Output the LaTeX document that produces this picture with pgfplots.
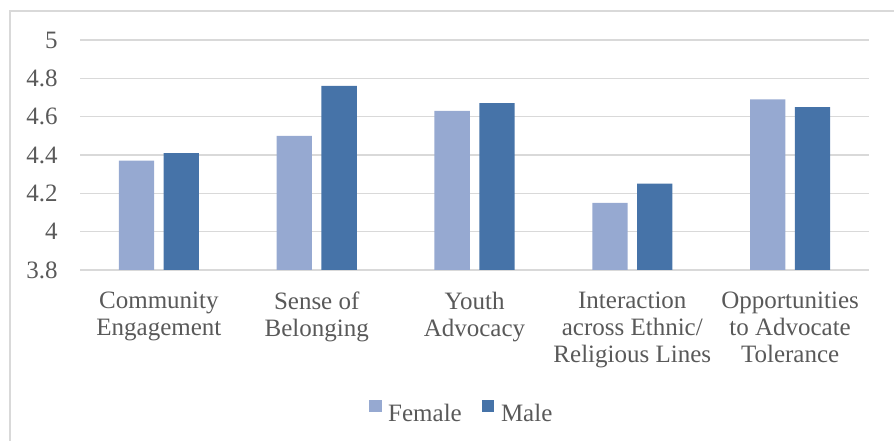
\documentclass[border=0pt]{standalone}
\usepackage{fontspec}
\setmainfont{Liberation Serif}
\usepackage{pgfplots}
\pgfplotsset{compat=1.18}

\definecolor{femc}{HTML}{96A9D1}
\definecolor{malec}{HTML}{4673A8}
\definecolor{gridc}{HTML}{D9D9D9}
\definecolor{textc}{HTML}{595959}
\newcommand\chartfont{\fontsize{25bp}{27bp}\selectfont}

\begin{document}
\begin{tikzpicture}[x=1bp,y=1bp]
\useasboundingbox (0,0) rectangle (894,441);
% chart frame
\draw[gridc, line width=1.5bp] (10,-10) -- (10,430) -- (910,430);
\begin{axis}[
  at={(80bp,171bp)}, anchor=south west,
  scale only axis, width=789bp, height=230bp,
  ybar=9.5bp, bar width=35.3bp,
  xmin=-0.5, xmax=4.5, ymin=3.8, ymax=5,
  axis line style={draw=none},
  major tick length=0pt,
  ymajorgrids, grid style={gridc, line width=1.4bp},
  ytick={3.8,4,4.2,4.4,4.6,4.8,5},
  yticklabels={3.8,4,4.2,4.4,4.6,4.8,5},
  xtick={0,1,2,3,4},
  xticklabels={{Community\\Engagement},{Sense of\\Belonging},{Youth\\Advocacy},
    {Interaction\\across Ethnic/\\Religious Lines},{Opportunities\\to Advocate\\Tolerance}},
  yticklabel style={font=\chartfont, text=textc, anchor=east, inner sep=0pt, xshift=-22.3bp},
  xticklabel style={font=\chartfont, text=textc, align=center, anchor=north, inner sep=0pt, yshift=-22.2bp},
  legend columns=-1,
  legend style={draw=none, fill=none, inner sep=0pt, outer sep=0pt,
    at={(0.3667,-0.564)}, anchor=north west,
    font=\chartfont, text=textc, nodes={inner sep=0pt},
    /tikz/every odd column/.append style={column sep=6.6bp},
    /tikz/every even column/.append style={column sep=20.3bp}},
]
\addplot[fill=femc, draw=none,
  legend image code/.code={\fill[femc] (0bp,2bp) rectangle (12.3bp,14.3bp);}]
  coordinates {(0,4.37) (1,4.50) (2,4.63) (3,4.15) (4,4.69)};
\addlegendentry{Female}
\addplot[fill=malec, draw=none,
  legend image code/.code={\fill[malec] (0bp,2bp) rectangle (12.3bp,14.3bp);}]
  coordinates {(0,4.41) (1,4.76) (2,4.67) (3,4.25) (4,4.65)};
\addlegendentry{Male}
\end{axis}
\end{tikzpicture}
\end{document}
